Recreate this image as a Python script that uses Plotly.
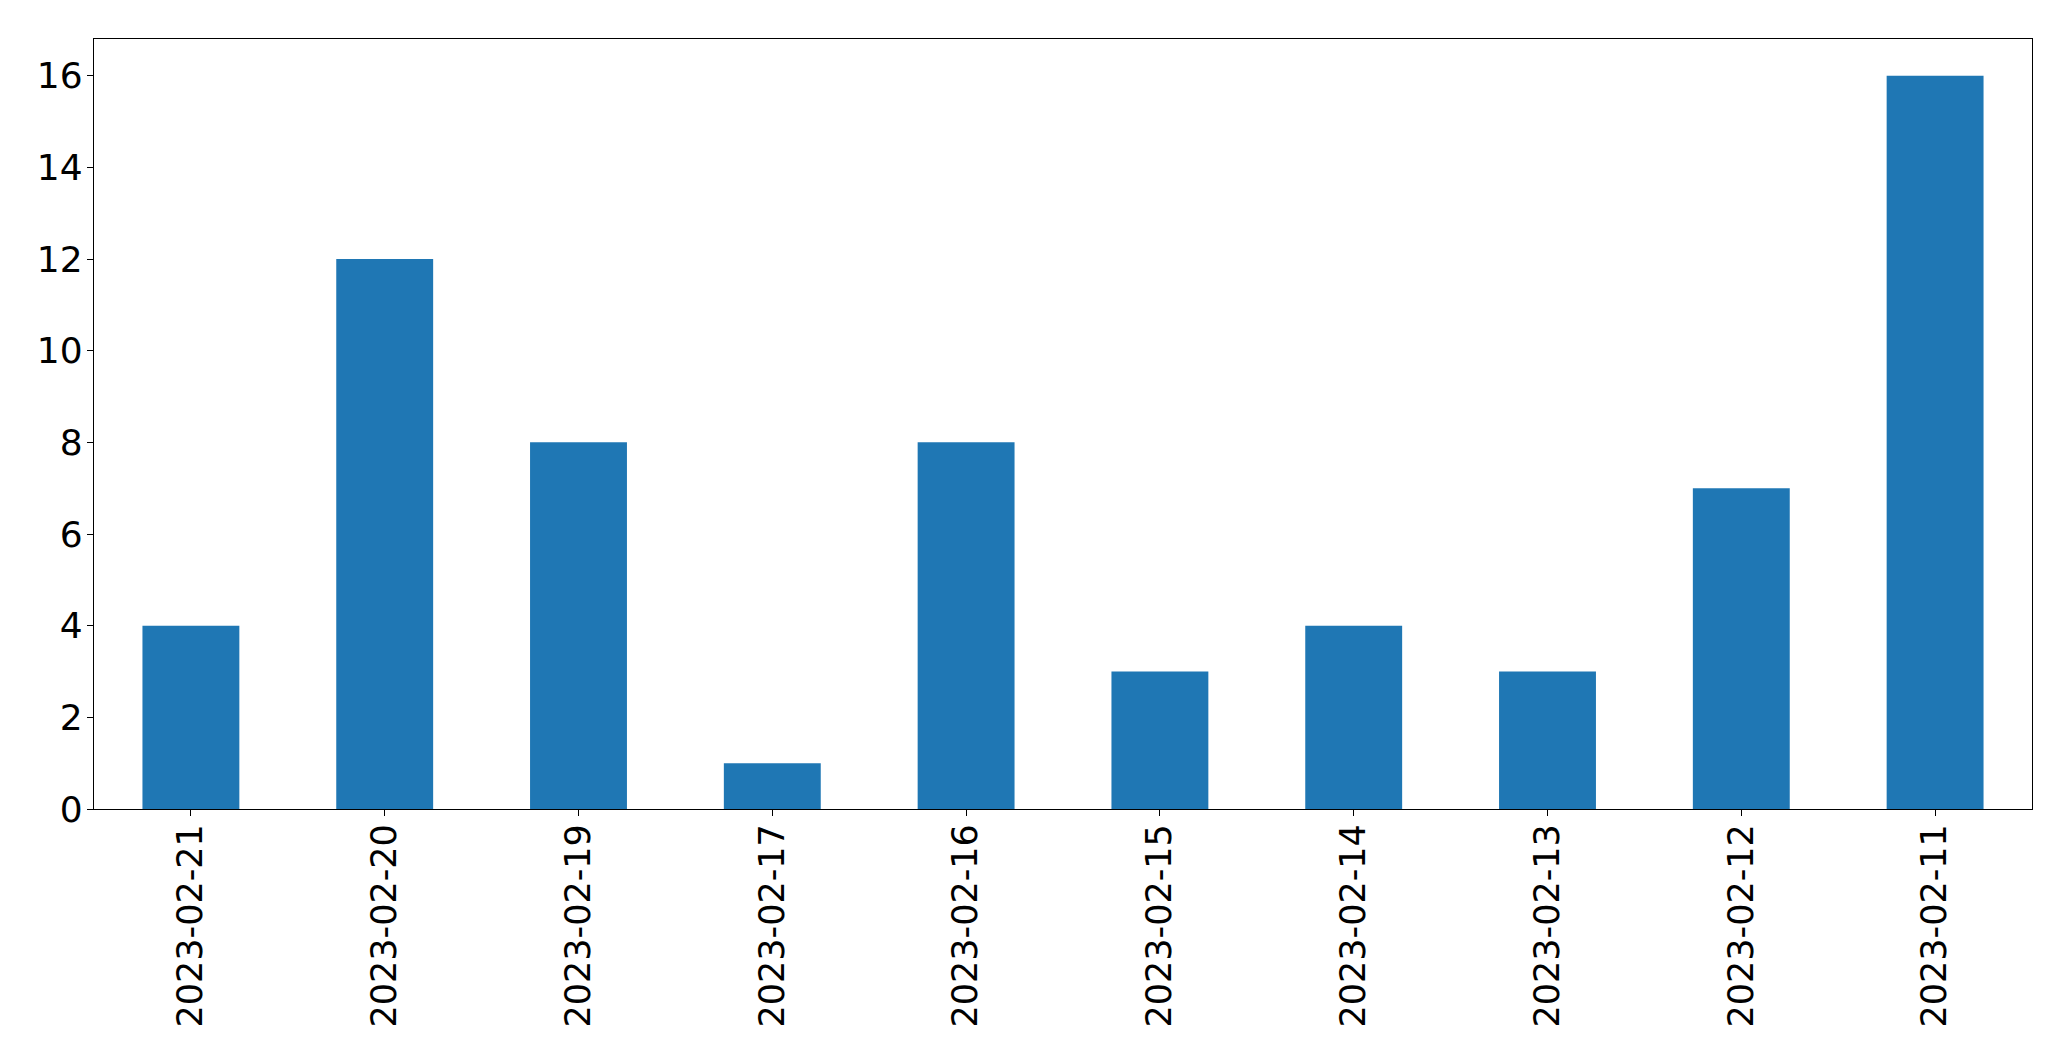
import plotly.graph_objects as go

dates = ["2023-02-21", "2023-02-20", "2023-02-19", "2023-02-17", "2023-02-16",
         "2023-02-15", "2023-02-14", "2023-02-13", "2023-02-12", "2023-02-11"]
counts = [4, 12, 8, 1, 8, 3, 4, 3, 7, 16]
y_ticks = [0, 2, 4, 6, 8, 10, 12, 14, 16]

fig = go.Figure(go.Bar(x=dates, y=counts, marker=dict(color="#1f77b4", line=dict(width=0)),
                       width=0.5))

font = dict(family="DejaVu Sans", size=35, color="black")
# page body has an 8px margin; compensate so the plot area lands at the reference pixels
fig.update_layout(
    width=2055, height=1045,
    margin=dict(l=86, r=31, t=31, b=244),
    paper_bgcolor="white", plot_bgcolor="white",
    showlegend=False,
    font=font,
)
fig.update_xaxes(type="category", range=[-0.5, 9.5], tickangle=-90,
                 showline=True, mirror=True, linecolor="black", linewidth=1.3,
                 ticks="outside", ticklen=6, tickwidth=1.3, tickcolor="black",
                 ticklabelstandoff=-6,
                 showgrid=False, zeroline=False, tickfont=font)
fig.update_yaxes(range=[0, 16.8], tickvals=y_ticks,
                 showline=True, mirror=True, linecolor="black", linewidth=1.3,
                 ticks="outside", ticklen=6, tickwidth=1.3, tickcolor="black",
                 ticklabelstandoff=-3,
                 showgrid=False, zeroline=False, tickfont=dict(family="DejaVu Sans", size=36, color="black"))

fig.write_html("out.html")
